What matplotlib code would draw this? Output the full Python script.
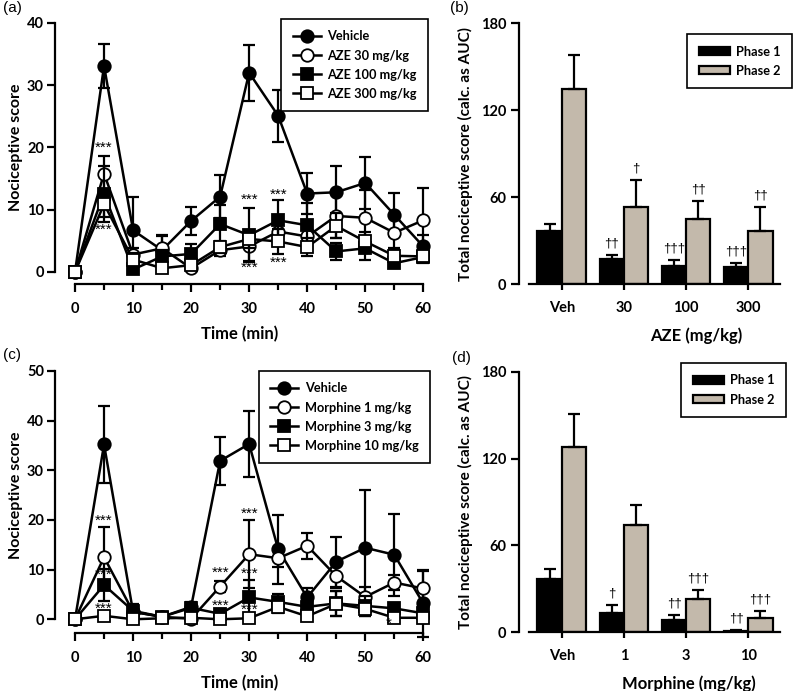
"""
Formalin test: time course and AUC bars (AZE vs morphine)
"""

import numpy as np
import matplotlib.pyplot as plt

plt.rcParams["font.family"] = ["Lato", "DejaVu Sans"]
plt.rcParams["font.weight"] = "bold"
plt.rcParams["axes.labelweight"] = "bold"
plt.rcParams["axes.linewidth"] = 1.6

# ---- time course data -------------------------------------------------
time_min = [0, 5, 10, 15, 20, 25, 30, 35, 40, 45, 50, 55, 60]

aze_vehicle = [0, 33.1, 6.7, 3.5, 8.2, 12.1, 32.0, 25.1, 12.6, 12.8, 14.3, 9.2, 4.1]
aze_vehicle_err = [0, 3.5, 5.3, 2.4, 2.3, 3.4, 4.5, 4.2, 3.3, 4.2, 4.2, 3.5, 1.8]
aze30 = [0, 15.8, 2.8, 3.8, 0.6, 3.5, 4.1, 6.5, 5.7, 9.0, 8.7, 6.3, 8.3]
aze30_err = [0, 2.9, 1.0, 2.0, 0.5, 1.0, 2.3, 1.5, 1.5, 3.5, 4.5, 2.5, 5.2]
aze100 = [0, 12.6, 0.4, 2.5, 2.9, 7.7, 5.9, 8.3, 7.5, 3.3, 3.8, 1.4, 2.4]
aze100_err = [0, 4.5, 0.5, 1.0, 1.6, 3.0, 4.3, 3.2, 3.6, 1.3, 1.9, 0.6, 0.8]
aze300 = [0, 10.9, 2.0, 0.6, 1.1, 4.0, 5.3, 4.9, 4.0, 7.4, 4.9, 2.6, 2.5]
aze300_err = [0, 2.0, 1.0, 0.5, 0.5, 1.0, 1.5, 2.0, 1.5, 2.0, 1.5, 1.0, 1.0]

mor_vehicle = [0, 35.2, 1.5, 0.5, 2.5, 31.9, 35.3, 14.1, 4.4, 11.6, 14.4, 13.0, 3.2]
mor_vehicle_err = [0, 7.8, 1.5, 0.3, 1.0, 4.9, 6.6, 7.0, 1.8, 5.0, 11.6, 8.3, 6.7]
mor1 = [0, 12.5, 1.5, 0.5, 0.1, 6.6, 13.1, 12.3, 14.8, 8.7, 4.5, 7.4, 6.2]
mor1_err = [0, 6.0, 0.5, 0.3, 0.2, 1.2, 6.9, 1.8, 2.6, 2.5, 2.0, 1.5, 3.5]
mor3 = [0, 6.9, 1.7, 0.5, 2.3, 1.1, 4.4, 3.5, 2.5, 3.2, 2.7, 2.2, 1.2]
mor3_err = [0, 3.2, 1.0, 0.3, 1.0, 0.8, 3.6, 1.5, 1.0, 2.5, 2.0, 0.8, 0.8]
mor10 = [0, 0.7, 0.0, 0.2, 0.3, 0.0, 0.2, 2.5, 0.6, 3.1, 2.1, 0.3, 0.3]
mor10_err = [0, 0.3, 0.1, 0.1, 0.2, 0.1, 0.2, 1.2, 0.5, 2.5, 1.5, 0.3, 0.3]

# significance marks (time, level, text)
aze_stars = [(5, 19.9, "***"), (5, 6.7, "***"), (30, 11.6, "***"), (30, 0.6, "***"),
             (35, 12.4, "***"), (35, 1.4, "***")]
mor_stars = [(5, 19.8, "***"), (5, 8.9, "***"), (5, 2.2, "***"), (25, 9.3, "***"),
             (25, 2.8, "***"), (30, 21.2, "***"), (30, 9.1, "***"), (30, 2.0, "***"),
             (54, -0.9, "*")]

# ---- AUC data -----------------------------------------------------------
aze_groups = ["Veh", "30", "100", "300"]
aze_phase1 = [36.8, 17.3, 12.7, 11.7]
aze_phase1_err = [5.1, 2.7, 3.9, 3.0]
aze_phase2 = [134.7, 53.6, 44.9, 36.8]
aze_phase2_err = [23.4, 18.2, 12.4, 16.6]
aze_phase1_marks = ["", "††", "†††", "†††"]
aze_phase2_marks = ["", "†", "††", "††"]

mor_groups = ["Veh", "1", "3", "10"]
mor_phase1 = [36.6, 13.1, 8.5, 1.2]
mor_phase1_err = [7.4, 5.8, 3.5, 0.4]
mor_phase2 = [128.2, 74.1, 23.2, 9.9]
mor_phase2_err = [22.8, 13.8, 6.0, 5.1]
mor_phase1_marks = ["", "†", "††", "††"]
mor_phase2_marks = ["", "", "†††", "†††"]

PHASE2_COLOR = "#c3b9ab"
MARKERS = [("o", "black"), ("o", "white"), ("s", "black"), ("s", "white")]
MARK_FONT = dict(family="Liberation Sans", weight="normal")


def plot_time_course(ax, series, labels, ymax, stars, spine_offset):
    for (y, err), label, (mk, mfc) in zip(series, labels, MARKERS):
        ax.errorbar(time_min, y, yerr=err, fmt="none", ecolor="black",
                    elinewidth=1.6, capsize=4, capthick=1.6, clip_on=False)
        ax.plot(time_min, y, "-", marker=mk, color="black", mfc=mfc, mec="black",
                lw=1.8, ms=9 if mk == "o" else 8.5, mew=1.3, label=label, clip_on=False)

    for t, level, txt in stars:
        ax.text(t, level, txt, ha="center", va="center", fontsize=11,
                clip_on=False, **MARK_FONT)

    ax.set_xlim(-3.45, 60.3)
    ax.set_ylim(0, ymax)
    ax.set_xticks(range(0, 61, 10))
    ax.set_xticks(range(5, 60, 10), minor=True)
    ax.set_yticks(np.arange(0, ymax + 1, 10))
    ax.spines["top"].set_visible(False)
    ax.spines["right"].set_visible(False)
    ax.spines["bottom"].set_bounds(0, 60)
    ax.spines["bottom"].set_position(("outward", spine_offset))
    ax.spines["left"].set_bounds(0, ymax)
    ax.tick_params(axis="y", which="major", length=6, width=1.6, labelsize=10.5, pad=2)
    ax.tick_params(axis="x", which="major", length=6, width=1.6, labelsize=10.5, pad=7)
    ax.tick_params(axis="x", which="minor", length=4, width=1.6)
    ax.set_xlabel("Time (min)", fontsize=12, labelpad=7)
    ax.set_ylabel("Nociceptive score", fontsize=11.5, labelpad=3)


def plot_auc(ax, groups, p1, p1_err, p2, p2_err, p1_marks, p2_marks, xlabel, label_x):
    x = np.arange(len(groups))
    width = 0.39

    ax.bar(x - width / 2, p1, width, yerr=[np.zeros(len(p1)), p1_err],
           color="black", edgecolor="black", linewidth=1.6, label="Phase 1",
           error_kw=dict(elinewidth=1.6, capsize=4, capthick=1.6))
    ax.bar(x + width / 2, p2, width, yerr=[np.zeros(len(p2)), p2_err],
           color=PHASE2_COLOR, edgecolor="black", linewidth=1.6, label="Phase 2",
           error_kw=dict(elinewidth=1.6, capsize=4, capthick=1.6))

    for i in range(len(groups)):
        ax.text(x[i] - width / 2, p1[i] + p1_err[i] + 8, p1_marks[i], ha="center",
                va="center", fontsize=9.5, **MARK_FONT)
        ax.text(x[i] + width / 2, p2[i] + p2_err[i] + 8, p2_marks[i], ha="center",
                va="center", fontsize=9.5, **MARK_FONT)

    ax.set_xlim(-0.687, 3.51)
    ax.set_ylim(0, 180)
    ax.set_xticks(x)
    ax.set_xticklabels(groups)
    ax.set_yticks([0, 60, 120, 180])
    ax.spines["top"].set_visible(False)
    ax.spines["right"].set_visible(False)
    ax.spines["bottom"].set_bounds(-0.525, 3.51)
    ax.tick_params(axis="y", length=6, width=1.6, labelsize=10.5, pad=3)
    ax.tick_params(axis="x", length=4, width=1.6, labelsize=10.5, pad=8)
    ax.set_xlabel(xlabel, fontsize=12)
    ax.xaxis.set_label_coords(label_x, -0.165)
    ax.set_ylabel("Total nociceptive score (calc. as AUC)", fontsize=11, labelpad=6)


def main():
    fig = plt.figure(figsize=(8, 6.91), dpi=100)

    ax_a = fig.add_axes([0.06875, 0.6064, 0.4625, 0.3604])
    ax_b = fig.add_axes([0.64875, 0.5886, 0.32625, 0.3777])
    ax_c = fig.add_axes([0.06875, 0.1038, 0.4625, 0.3593])
    ax_d = fig.add_axes([0.64875, 0.0849, 0.32625, 0.3771])

    plot_time_course(
        ax_a,
        [(aze_vehicle, aze_vehicle_err), (aze30, aze30_err),
         (aze100, aze100_err), (aze300, aze300_err)],
        ["Vehicle", "AZE 30 mg/kg", "AZE 100 mg/kg", "AZE 300 mg/kg"],
        40, aze_stars, 8.6)
    plot_time_course(
        ax_c,
        [(mor_vehicle, mor_vehicle_err), (mor1, mor1_err),
         (mor3, mor3_err), (mor10, mor10_err)],
        ["Vehicle", "Morphine 1 mg/kg", "Morphine 3 mg/kg", "Morphine 10 mg/kg"],
        50, mor_stars, 10)

    plot_auc(ax_b, aze_groups, aze_phase1, aze_phase1_err, aze_phase2, aze_phase2_err,
             aze_phase1_marks, aze_phase2_marks, "AZE (mg/kg)", 0.68)
    plot_auc(ax_d, mor_groups, mor_phase1, mor_phase1_err, mor_phase2, mor_phase2_err,
             mor_phase1_marks, mor_phase2_marks, "Morphine (mg/kg)", 0.65)

    legend_kw = dict(loc="upper right", fontsize=9.2, frameon=True, fancybox=False,
                     framealpha=1, edgecolor="black", borderaxespad=0,
                     labelspacing=0.55, borderpad=0.9, handletextpad=0.5)
    for ax, anchor in [(ax_a, (428 / 800, 1 - 19 / 691)), (ax_c, (430 / 800, 1 - 371 / 691))]:
        leg = ax.legend(bbox_to_anchor=anchor, bbox_transform=fig.transFigure,
                        handlelength=2.2, **legend_kw)
        leg.get_frame().set_linewidth(1.2)
    for ax, anchor in [(ax_b, (792 / 800, 1 - 34 / 691)), (ax_d, (786 / 800, 1 - 363 / 691))]:
        leg = ax.legend(bbox_to_anchor=anchor, bbox_transform=fig.transFigure,
                        handlelength=2.4, handleheight=0.6, **legend_kw)
        leg.get_frame().set_linewidth(1.2)

    for txt, x, y in [("(a)", 3, 8), ("(b)", 450, 8), ("(c)", 3, 355), ("(d)", 452, 358)]:
        fig.text(x / 800, 1 - y / 691, txt, ha="left", va="center", fontsize=11, **MARK_FONT)

    fig.savefig("out.png", dpi=100)


if __name__ == "__main__":
    main()
